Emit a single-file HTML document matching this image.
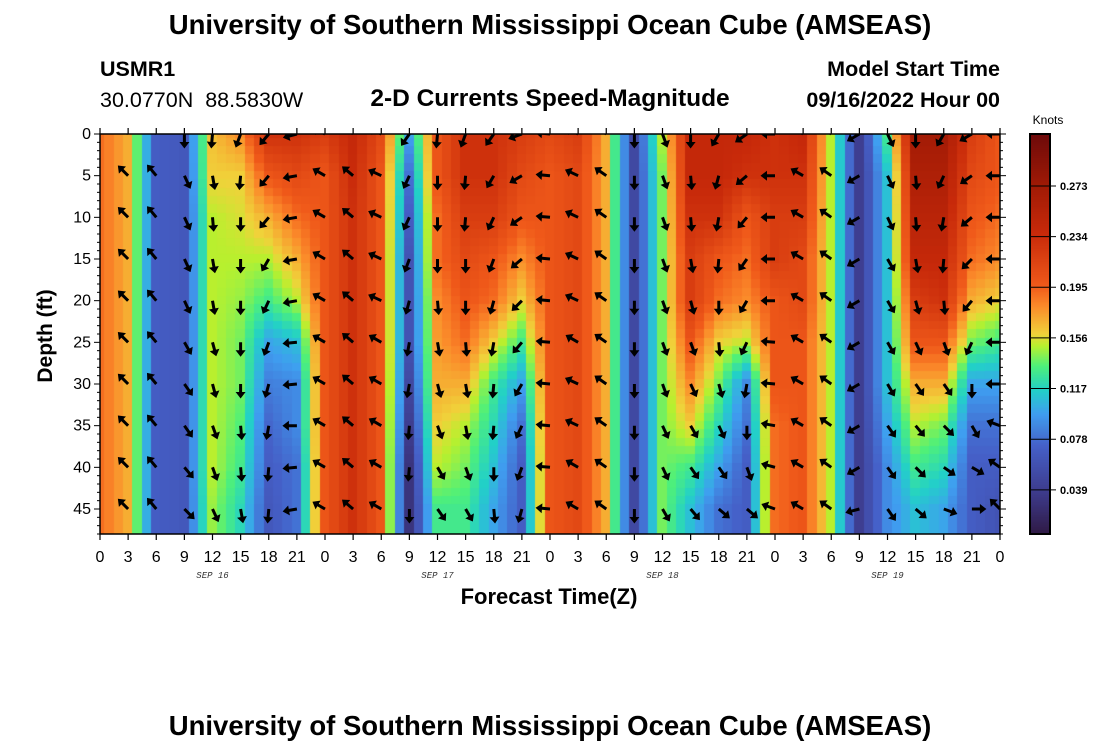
<!DOCTYPE html>
<html><head><meta charset="utf-8">
<style>
html,body{margin:0;padding:0;background:#fff;}
#wrap{position:relative;width:1100px;height:750px;overflow:hidden;font-family:"Liberation Sans",sans-serif;}
canvas{position:absolute;left:0;top:0;}
svg{position:absolute;left:0;top:0;}
</style></head>
<body>
<div id="wrap">
<canvas id="heat" width="1100" height="750"></canvas>
<svg id="svg" width="1100" height="750">
<defs><clipPath id="pclip"><rect x="100" y="134" width="900" height="400"/></clipPath></defs>
<text x="550" y="34" text-anchor="middle" font-size="27.5" font-weight="bold">University of Southern Mississippi Ocean Cube (AMSEAS)</text>
<text x="100" y="76" font-size="21.5" font-weight="bold">USMR1</text>
<text x="100" y="107" font-size="21.5" xml:space="preserve">30.0770N  88.5830W</text>
<text x="550" y="106" text-anchor="middle" font-size="24.5" font-weight="bold">2-D Currents Speed-Magnitude</text>
<text x="1000" y="76" text-anchor="end" font-size="21.5" font-weight="bold">Model Start Time</text>
<text x="1000" y="107" text-anchor="end" font-size="21.5" font-weight="bold">09/16/2022 Hour 00</text>
<text x="549" y="604" text-anchor="middle" font-size="22" font-weight="bold">Forecast Time(Z)</text>
<text transform="translate(52,336) rotate(-90)" text-anchor="middle" font-size="21" font-weight="bold">Depth (ft)</text>
<text x="1048" y="124" text-anchor="middle" font-size="12">Knots</text>
<text x="550" y="735" text-anchor="middle" font-size="27.5" font-weight="bold">University of Southern Mississippi Ocean Cube (AMSEAS)</text>
<g id="arrows" clip-path="url(#pclip)"></g>
<g id="axes"></g>
<g id="cbar"></g>
</svg>
</div>
<script>
// ---- data ----
const hours = [0,3,6,9,12,15,18,21,24,27,30,33,36,39,42,45,48,51,54,57,60,63,66,69,72,75,78,81,84,87,90,93,96];
const depths = [0,5,10,15,20,25,30,35,40,45];
// speed (knots) per hour column, values at the depths above
const speed = [
[0.19,0.19,0.19,0.19,0.19,0.19,0.19,0.19,0.19,0.19],
[0.17,0.17,0.17,0.17,0.17,0.17,0.17,0.17,0.17,0.17],
[0.07,0.07,0.07,0.07,0.07,0.07,0.07,0.07,0.07,0.07],
[0.065,0.065,0.065,0.065,0.065,0.065,0.065,0.065,0.065,0.065],
[0.165,0.16,0.15,0.15,0.15,0.15,0.15,0.15,0.15,0.145],
[0.18,0.16,0.155,0.15,0.145,0.14,0.14,0.135,0.13,0.12],
[0.23,0.2,0.17,0.15,0.13,0.1,0.085,0.075,0.07,0.065],
[0.23,0.21,0.19,0.17,0.15,0.11,0.09,0.09,0.08,0.08],
[0.22,0.2,0.2,0.2,0.2,0.2,0.2,0.2,0.2,0.2],
[0.24,0.235,0.23,0.23,0.23,0.23,0.23,0.23,0.23,0.23],
[0.21,0.2,0.2,0.2,0.2,0.2,0.2,0.2,0.2,0.2],
[0.1,0.08,0.07,0.06,0.06,0.06,0.05,0.04,0.03,0.03],
[0.2,0.2,0.19,0.19,0.18,0.175,0.17,0.16,0.15,0.13],
[0.23,0.23,0.22,0.21,0.2,0.19,0.17,0.15,0.14,0.13],
[0.23,0.23,0.22,0.2,0.19,0.16,0.13,0.12,0.11,0.1],
[0.22,0.21,0.2,0.18,0.16,0.13,0.1,0.08,0.07,0.07],
[0.21,0.2,0.2,0.2,0.2,0.2,0.2,0.2,0.2,0.2],
[0.22,0.21,0.21,0.21,0.21,0.21,0.21,0.21,0.21,0.21],
[0.17,0.17,0.17,0.17,0.17,0.17,0.17,0.17,0.17,0.17],
[0.05,0.05,0.05,0.05,0.05,0.05,0.05,0.05,0.05,0.05],
[0.15,0.14,0.14,0.14,0.14,0.14,0.14,0.14,0.14,0.14],
[0.24,0.24,0.23,0.22,0.22,0.2,0.18,0.16,0.13,0.11],
[0.24,0.24,0.23,0.2,0.19,0.16,0.14,0.12,0.1,0.08],
[0.24,0.23,0.2,0.19,0.18,0.15,0.09,0.08,0.07,0.07],
[0.23,0.23,0.22,0.22,0.2,0.2,0.2,0.19,0.19,0.19],
[0.24,0.23,0.22,0.21,0.21,0.2,0.2,0.2,0.2,0.2],
[0.15,0.15,0.15,0.15,0.15,0.15,0.15,0.15,0.15,0.15],
[0.04,0.04,0.04,0.04,0.04,0.04,0.04,0.04,0.04,0.04],
[0.13,0.11,0.11,0.11,0.11,0.11,0.11,0.1,0.09,0.09],
[0.27,0.26,0.25,0.24,0.22,0.2,0.17,0.15,0.13,0.11],
[0.27,0.26,0.25,0.24,0.23,0.2,0.17,0.14,0.12,0.1],
[0.22,0.21,0.2,0.19,0.17,0.14,0.1,0.08,0.07,0.07],
[0.2,0.2,0.19,0.18,0.16,0.13,0.1,0.08,0.07,0.06]
];
const arrowHours = [3,6,9,12,15,18,21,24,27,30,33,36,39,42,45,48,51,54,57,60,63,66,69,72,75,78,81,84,87,90,93,96];
// arrow direction (screen degrees: 0 right, 90 down, 180 left, 270 up) per depth
const arrowDir = [
[225,225,225,225,225,225,225,225,225,225],
[230,230,230,230,230,230,230,230,230,230],
[90,65,65,65,65,60,55,55,50,45],
[95,80,85,80,80,75,75,70,70,65],
[110,95,90,90,90,90,90,85,85,80],
[130,130,130,120,115,110,105,100,95,95],
[165,170,170,170,170,175,175,180,175,170],
[205,210,210,210,210,210,210,210,210,210],
[220,220,220,220,220,220,220,220,220,220],
[205,205,205,205,205,210,210,210,210,210],
[125,115,115,110,105,100,100,95,95,90],
[95,90,90,90,85,80,75,70,60,55],
[110,95,95,90,90,85,80,80,70,60],
[125,120,115,110,105,100,95,95,90,85],
[160,150,145,140,135,130,120,115,110,105],
[185,185,185,185,185,185,185,185,185,185],
[205,205,205,205,205,210,205,205,210,210],
[215,215,215,215,215,215,215,215,215,215],
[90,90,90,90,90,90,90,90,90,90],
[70,70,70,70,70,70,70,65,65,60],
[90,85,85,80,75,70,65,60,55,50],
[120,105,100,95,90,85,75,65,55,40],
[145,140,130,125,120,115,100,90,70,40],
[180,180,180,180,180,185,185,190,195,200],
[210,210,210,210,210,210,210,210,210,210],
[215,215,215,215,215,215,215,215,215,215],
[150,150,150,150,150,150,150,150,150,165],
[65,65,65,60,60,60,60,55,55,55],
[90,85,85,80,75,65,55,50,45,40],
[120,115,100,95,85,70,55,45,35,20],
[150,145,140,135,130,115,90,60,30,0],
[180,180,180,180,180,180,180,200,215,225]
];
const xTickHours = [0,3,6,9,12,15,18,21,24,27,30,33,36,39,42,45,48,51,54,57,60,63,66,69,72,75,78,81,84,87,90,93,96];
const yTickDepths = [0,5,10,15,20,25,30,35,40,45];
const dayLabels = ["SEP 16","SEP 17","SEP 18","SEP 19"];
const cbarTicks = [0.039,0.078,0.117,0.156,0.195,0.234,0.273];
const vMin = 0.005, vMax = 0.313;

// ---- scales ----
const PL=100, PR=1000, PT=134, PB=534;
function xS(h){ return PL + h*(PR-PL)/96; }
function yS(d){ return PT + d*(PB-PT)/48; }
const cbT=134, cbB=534;
function cS(v){ return cbB - (v - vMin)/(vMax - vMin)*(cbB-cbT); }

const stops = [[0,[47,26,69]],[0.1,[61,58,138]],[0.22,[69,96,200]],[0.3,[63,158,240]],[0.36,[34,208,200]],[0.42,[78,240,122]],[0.47,[184,240,46]],[0.5,[240,210,58]],[0.57,[251,138,42]],[0.62,[240,90,26]],[0.75,[200,42,10]],[0.87,[160,26,5]],[1,[110,10,10]]];
function cmap(v){
  let t=(v-vMin)/(vMax-vMin); t=Math.max(0,Math.min(1,t));
  for(let i=1;i<stops.length;i++){
    if(t<=stops[i][0]){
      const a=stops[i-1],b=stops[i],f=(t-a[0])/(b[0]-a[0]);
      const c=a[1].map((x,k)=>Math.round(x+(b[1][k]-x)*f));
      return `rgb(${c[0]},${c[1]},${c[2]})`;
    }
  }
  return 'rgb(110,10,10)';
}
function valueAt(h,d){
  let i=0; while(i<hours.length-2 && h>hours[i+1]) i++;
  const fh=Math.max(0,Math.min(1,(h-hours[i])/(hours[i+1]-hours[i])));
  const dd=Math.min(d,45);
  let j=0; while(j<depths.length-2 && dd>depths[j+1]) j++;
  const fd=Math.max(0,Math.min(1,(dd-depths[j])/(depths[j+1]-depths[j])));
  const a=speed[i][j]*(1-fd)+speed[i][j+1]*fd;
  const b=speed[i+1][j]*(1-fd)+speed[i+1][j+1]*fd;
  return a*(1-fh)+b*fh;
}

// ---- heatmap ----
const ctx=document.getElementById('heat').getContext('2d');
ctx.save(); ctx.beginPath(); ctx.rect(PL,PT,PR-PL,PB-PT); ctx.clip();
for(let h=0;h<=96;h++){
  for(let d=0;d<=48;d++){
    ctx.fillStyle=cmap(valueAt(h,d));
    const x0=Math.floor(xS(h-0.5)), x1=Math.ceil(xS(h+0.5));
    const y0=Math.floor(yS(d-0.5)), y1=Math.ceil(yS(d+0.5));
    ctx.fillRect(x0,y0,x1-x0,y1-y0);
  }
}
ctx.restore();
for(let y=cbT;y<cbB;y++){
  ctx.fillStyle=cmap(vMin+(cbB-y-0.5)/(cbB-cbT)*(vMax-vMin));
  ctx.fillRect(1030,y,20,1);
}

// ---- svg ----
const NS='http://www.w3.org/2000/svg';
function mk(tag,attrs,parent){ const e=document.createElementNS(NS,tag); for(const k in attrs) e.setAttribute(k,attrs[k]); parent.appendChild(e); return e; }
const ag=document.getElementById('arrows');
arrowHours.forEach((h,i)=>{
  depths.forEach((d,j)=>{
    const ang=arrowDir[i][j];
    const p=mk('path',{d:'M0,-1.5 L8,-1.5 L8,-5 L14.5,0 L8,5 L8,1.5 L0,1.5 Z',fill:'#000',transform:`translate(${xS(h).toFixed(1)},${yS(d).toFixed(1)}) rotate(${ang})`},ag);
    
    
  });
});
const ax=document.getElementById('axes');
const frame=mk('rect',{x:PL,y:PT,width:PR-PL,height:PB-PT,fill:'none',stroke:'#000','stroke-width':1.5},ax);


xTickHours.forEach(h=>{
  const x=xS(h);
  mk('line',{x1:x,x2:x,y1:PB,y2:PB+6,stroke:'#000','stroke-width':1.2},ax);
  mk('line',{x1:x,x2:x,y1:PT,y2:PT-6,stroke:'#000','stroke-width':1.2},ax);
  const t=mk('text',{x:x,y:562,'text-anchor':'middle','font-size':16},ax);
  t.textContent=String(h%24);
  
  
});
dayLabels.forEach((s,i)=>{
  const t=mk('text',{x:xS(i*24+12),y:578,'text-anchor':'middle','font-size':9,'font-style':'italic','font-family':'"Liberation Mono",monospace',fill:'#333'},ax);
  t.textContent=s;
  
  
});
for(let d=0;d<=48;d++){
  const y=yS(d), maj=d%5===0, L=maj?6:3;
  mk('line',{x1:PL,x2:PL-L,y1:y,y2:y,stroke:'#000','stroke-width':1},ax);
  mk('line',{x1:PR,x2:PR+L,y1:y,y2:y,stroke:'#000','stroke-width':1},ax);
}
yTickDepths.forEach(d=>{
  const t=mk('text',{x:91,y:yS(d)+5,'text-anchor':'end','font-size':16},ax);
  t.textContent=String(d);
  
  
});
const cb=document.getElementById('cbar');
mk('rect',{x:1030,y:cbT,width:20,height:cbB-cbT,fill:'none',stroke:'#000','stroke-width':2},cb);
cbarTicks.forEach(v=>{
  const y=cS(v);
  mk('line',{x1:1030,x2:1056,y1:y,y2:y,stroke:'#000','stroke-width':1},cb);
  const t=mk('text',{x:1060,y:y+4,'font-size':11,'font-weight':'bold'},cb);
  t.textContent=v.toFixed(3);
  
  
});
</script>
</body></html>
